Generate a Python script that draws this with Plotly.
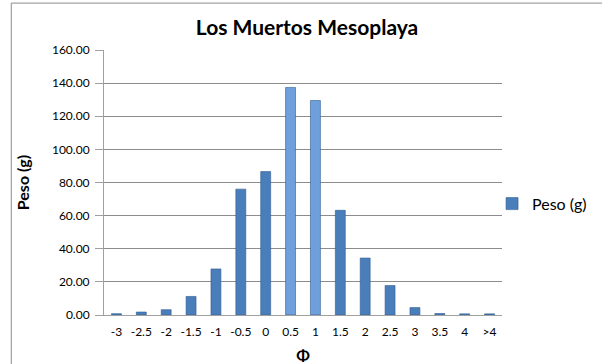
import plotly.graph_objects as go

categories = ["-3", "-2.5", "-2", "-1.5", "-1", "-0.5", "0", "0.5", "1", "1.5", "2", "2.5", "3", "3.5", "4", ">4"]
peso = [0.8, 1.8, 3.2, 11.2, 27.8, 76.0, 86.6, 137.4, 129.5, 63.2, 34.4, 17.8, 4.5, 0.9, 0.7, 0.7]
y_ticks = [0, 20, 40, 60, 80, 100, 120, 140, 160]

base_col = "#4A7EBB"
light_col = "#6FA0DC"
colors = [light_col if c in ("0.5", "1") else base_col for c in categories]

FONT = "Lato, Open Sans, sans-serif"

fig = go.Figure()
fig.add_trace(go.Bar(
    x=categories, y=peso, name="Peso (g)",
    marker=dict(color=colors, line=dict(color="#2F5C8F", width=0.6)),
    showlegend=True,
))

fig.update_layout(
    width=602, height=364,
    margin=dict(l=104, r=100, t=50, b=49, autoexpand=False),
    paper_bgcolor="white", plot_bgcolor="white",
    font=dict(family=FONT, color="#404040"),
    title=dict(text="<b>Los Muertos Mesoplaya</b>", x=0.51, xanchor="center", y=0.923, yanchor="middle",
               font=dict(size=21, color="#000000", family=FONT)),
    bargap=0.6,
    legend=dict(x=0.975, y=0.42, xanchor="left", yanchor="middle",
                font=dict(size=16, color="#000000", family=FONT), bgcolor="rgba(0,0,0,0)",
                itemwidth=30),
    xaxis=dict(
        type="category", range=[-0.5, 15.5], automargin=False,
        showgrid=False, showline=True, linecolor="#A0A0A0", linewidth=1,
        ticks="", tickfont=dict(size=12, color="#000000", family=FONT),
        ticklabelstandoff=6,
        title=dict(text="<b>Φ</b>", font=dict(size=16, color="#000000", family=FONT), standoff=12),
    ),
    yaxis=dict(
        range=[0, 160], tickvals=y_ticks, tickformat=".2f", automargin=False,
        showgrid=True, gridcolor="#8C8C8C", gridwidth=1,
        showline=True, linecolor="#A0A0A0", linewidth=1,
        ticks="outside", ticklen=8, tickcolor="#A0A0A0",
        ticklabelstandoff=3,
        tickfont=dict(size=12, color="#000000", family=FONT),
        title=dict(text="<b>Peso (g)</b>", font=dict(size=16, color="#000000", family=FONT), standoff=18),
        zeroline=False,
    ),
    shapes=[dict(type="rect", xref="paper", yref="paper",
                 x0=-0.233, x1=1.3, y0=-0.3, y1=1.177,
                 line=dict(color="#8C8C8C", width=1), fillcolor="rgba(0,0,0,0)", layer="below")],
)

fig.write_html("out.html", config={"displayModeBar": False},
               post_script="document.body.style.margin='0';")
